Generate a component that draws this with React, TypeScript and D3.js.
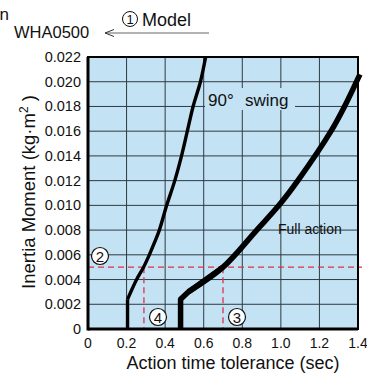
import React from "react";
import * as d3 from "d3";

const xTicks = [0, 0.2, 0.4, 0.6, 0.8, 1.0, 1.2, 1.4];
const xTickLabels = ["0", "0.2", "0.4", "0.6", "0.8", "1.0", "1.2", "1.4"];
const yTicks = [0, 0.002, 0.004, 0.006, 0.008, 0.01, 0.012, 0.014, 0.016, 0.018, 0.02, 0.022];
const yTickLabels = ["0", "0.002", "0.004", "0.006", "0.008", "0.010", "0.012", "0.014", "0.016", "0.018", "0.020", "0.022"];

// 90° swing curve
const swingX = [0.205, 0.205, 0.252, 0.288, 0.318, 0.345, 0.37, 0.408, 0.45, 0.485, 0.515, 0.545, 0.583, 0.61];
const swingY = [0, 0.0024, 0.004, 0.005, 0.006, 0.007, 0.008, 0.01, 0.012, 0.014, 0.016, 0.018, 0.02, 0.022];

// Full action curve
const fullX = [0.48, 0.48, 0.52, 0.7, 0.875, 0.99, 1.088, 1.26, 1.33, 1.41];
const fullY = [0, 0.0024, 0.003, 0.005, 0.008, 0.01, 0.012, 0.016, 0.018, 0.0206];

const selInertia = 0.005;
const selTimes = [0.29, 0.7];

export default function App() {
  const W = 367, H = 374;
  const left = 88, right = 358, top = 57, bottom = 329;
  const x = d3.scaleLinear().domain([0, 1.4]).range([left, right]);
  const y = d3.scaleLinear().domain([0, 0.022]).range([bottom, top]);
  const lin = d3.line<[number, number]>().x(d => x(d[0])).y(d => y(d[1])).curve(d3.curveLinear);
  const smooth = d3.line<[number, number]>().x(d => x(d[0])).y(d => y(d[1])).curve(d3.curveCatmullRom.alpha(0.5));
  const swing = swingX.map((v, i) => [v, swingY[i]] as [number, number]);
  const full = fullX.map((v, i) => [v, fullY[i]] as [number, number]);
  const font = "'Liberation Sans', Arial, sans-serif";
  const bg = "#c3e2f3";
  const grid = "#2f3a44";

  const circled = (cx: number, cy: number, t: string) => (
    <g>
      <circle cx={cx} cy={cy} r={8.5} fill="white" stroke="#111" strokeWidth={1.2} />
      <text x={cx} y={cy + 5.5} textAnchor="middle" fontSize={15} fontFamily={font} fill="#111">{t}</text>
    </g>
  );

  return (
    <svg width={W} height={H} style={{ position: "absolute", left: 0, top: 0, display: "block" }}>
      <rect x={0} y={0} width={W} height={H} fill="white" />
      <text x={9} y={20} textAnchor="end" fontSize={17} fontFamily={font} fill="#111">Selection</text>
      <text x={14} y={38} fontSize={16.5} fontFamily={font} fill="#111">WHA0500</text>
      <line x1={105} y1={33} x2={209} y2={33} stroke="#666" strokeWidth={1.2} />
      <polyline points="114,29.5 105,33 114,36.5" fill="none" stroke="#333" strokeWidth={1} />
      <circle cx={130} cy={19} r={7.5} fill="none" stroke="#111" strokeWidth={1} />
      <text x={130} y={24} textAnchor="middle" fontSize={13} fontFamily={font} fill="#111">1</text>
      <text x={142} y={26} fontSize={18} fontFamily={font} fill="#111">Model</text>

      <rect x={left} y={top} width={right - left} height={bottom - top} fill={bg} />
      {xTicks.slice(1, -1).map(t => (
        <line key={"gx" + t} x1={x(t)} x2={x(t)} y1={top} y2={bottom} stroke={grid} strokeWidth={1} />
      ))}
      {yTicks.slice(1, -1).map(t => (
        <line key={"gy" + t} x1={left} x2={right} y1={y(t)} y2={y(t)} stroke={grid} strokeWidth={1} />
      ))}
      <rect x={205} y={88} width={90} height={22} fill={bg} />
      <text x={208} y={106} fontSize={17} fontFamily={font} fill="#111">90°</text>
      <text x={245} y={106} fontSize={17} fontFamily={font} fill="#111">swing</text>
      <text x={278} y={234} fontSize={14} fontFamily={font} fill="#111">Full action</text>

      <line x1={left} x2={362} y1={y(selInertia)} y2={y(selInertia)} stroke="#e0304a" strokeWidth={1.3} strokeDasharray="6,4" />
      {selTimes.map(t => (
        <line key={"s" + t} x1={x(t)} x2={x(t)} y1={y(selInertia)} y2={bottom} stroke="#e0304a" strokeWidth={1.3} strokeDasharray="6,4" />
      ))}

      <path d={lin(swing.slice(0, 2)) || ""} fill="none" stroke="#000" strokeWidth={3.4} strokeLinejoin="round" />
      <path d={smooth(swing.slice(1)) || ""} fill="none" stroke="#000" strokeWidth={3.4} strokeLinejoin="round" />
      <path d={lin(full.slice(0, 4)) || ""} fill="none" stroke="#000" strokeWidth={5.5} strokeLinejoin="round" />
      <path d={smooth(full.slice(2)) || ""} fill="none" stroke="#000" strokeWidth={5.5} strokeLinejoin="round" />

      <rect x={left} y={top} width={right - left} height={bottom - top} fill="none" stroke="#000" strokeWidth={2} />
      <line x1={left} x2={left} y1={top} y2={bottom + 1.5} stroke="#000" strokeWidth={3} />
      <line x1={left} x2={right} y1={bottom} y2={bottom} stroke="#000" strokeWidth={3} />

      {circled(100, 256, "2")}
      {circled(158, 317, "4")}
      {circled(237, 317, "3")}

      {yTicks.map((t, i) => (
        <text key={"yl" + t} x={81} y={y(t) + 5} textAnchor="end" fontSize={14.5} fontFamily={font} fill="#111">{yTickLabels[i]}</text>
      ))}
      {xTicks.map((t, i) => (
        <text key={"xl" + t} x={x(t)} y={348} textAnchor="middle" fontSize={14} fontFamily={font} fill="#111">{xTickLabels[i]}</text>
      ))}
      <text x={233} y={369} textAnchor="middle" fontSize={18} fontFamily={font} fill="#111">Action time tolerance (sec)</text>
      <text transform="translate(35,192) rotate(-90)" textAnchor="middle" fontSize={18.5} fontFamily={font} fill="#111">
        Inertia Moment (kg·m<tspan dy={-7} fontSize={12}>2</tspan><tspan dy={7}> )</tspan>
      </text>
    </svg>
  );
}
